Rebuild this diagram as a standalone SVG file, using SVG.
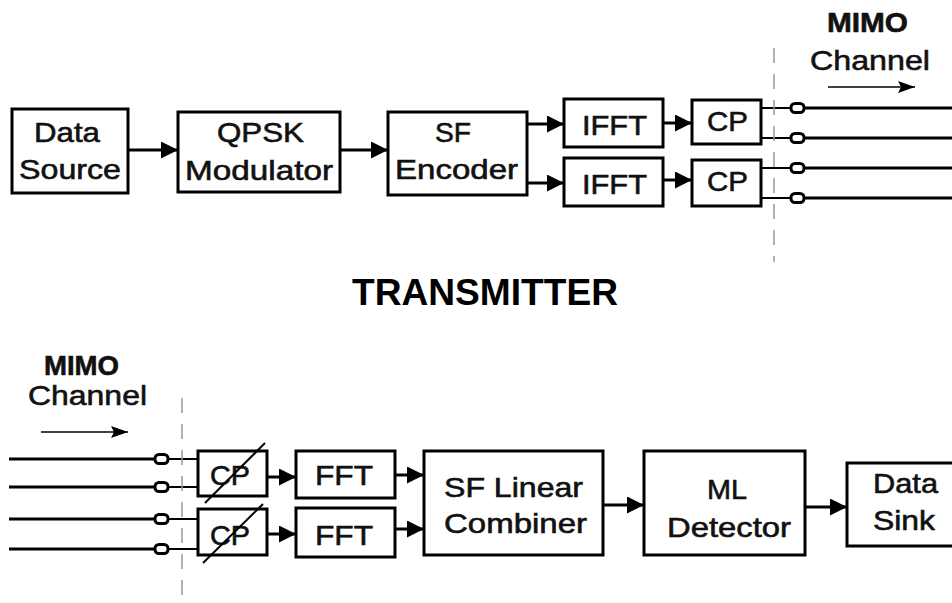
<svg xmlns="http://www.w3.org/2000/svg" width="952" height="603" viewBox="0 0 952 603">
<defs>
<style>
.box{fill:#fff;stroke:#000;stroke-width:3}
.t{font-family:"Liberation Sans",Arial,sans-serif;font-size:28px;fill:#111;stroke:#111;stroke-width:0.6}
.tb{font-family:"Liberation Sans",Arial,sans-serif;font-size:37px;font-weight:bold;fill:#000}
.ar{stroke:#000;stroke-width:3;fill:none;marker-end:url(#ah)}
.sm{stroke:#000;stroke-width:1.5;fill:none;marker-end:url(#ahs)}
.thick{stroke:#000;stroke-width:3;fill:none}
.thin{stroke:#000;stroke-width:2;fill:none}
.con{fill:#fff;stroke:#000;stroke-width:3}
.dash{stroke:#999;stroke-width:1.5;stroke-dasharray:15 11;fill:none}
.slash{stroke:#000;stroke-width:2;fill:none}
</style>
<marker id="ah" markerUnits="userSpaceOnUse" markerWidth="17" markerHeight="17" refX="17" refY="8.5" orient="auto" viewBox="0 0 17 17">
<path d="M0,0 L17,8.5 L0,17 z" fill="#000"/>
</marker>
<marker id="ahs" markerUnits="userSpaceOnUse" markerWidth="17" markerHeight="12" refX="17" refY="6" orient="auto" viewBox="0 0 17 12">
<path d="M0,0 L17,6 L0,12 L3,6 z" fill="#000"/>
</marker>
</defs>

<g id="connectors">
<line class="ar" x1="128" y1="150" x2="178" y2="150"/>
<line class="ar" x1="340" y1="150" x2="388" y2="150"/>
<line class="ar" x1="527" y1="124" x2="564" y2="124"/>
<line class="ar" x1="527" y1="183" x2="564" y2="183"/>
<line class="ar" x1="663" y1="123" x2="692" y2="123"/>
<line class="ar" x1="663" y1="180" x2="692" y2="180"/>
<line class="thin" x1="761" y1="108" x2="792" y2="108"/>
<line class="thin" x1="761" y1="138" x2="792" y2="138"/>
<line class="thin" x1="761" y1="168" x2="792" y2="168"/>
<line class="thin" x1="761" y1="198" x2="792" y2="198"/>
<line class="thick" x1="803" y1="108" x2="952" y2="108"/>
<line class="thick" x1="803" y1="138" x2="952" y2="138"/>
<line class="thick" x1="803" y1="168" x2="952" y2="168"/>
<line class="thick" x1="803" y1="198" x2="952" y2="198"/>
<rect class="con" x="791" y="103.5" width="13" height="9" rx="4"/>
<rect class="con" x="791" y="133.5" width="13" height="9" rx="4"/>
<rect class="con" x="791" y="163.5" width="13" height="9" rx="4"/>
<rect class="con" x="791" y="193.5" width="13" height="9" rx="4"/>
<line class="dash" x1="774" y1="48" x2="774" y2="262"/>
<line class="sm" x1="828" y1="87" x2="915" y2="87"/>

<line class="thick" x1="9" y1="459" x2="156" y2="459"/>
<line class="thick" x1="9" y1="487" x2="156" y2="487"/>
<line class="thick" x1="9" y1="519" x2="156" y2="519"/>
<line class="thick" x1="9" y1="549" x2="156" y2="549"/>
<line class="thin" x1="166" y1="459" x2="198" y2="459"/>
<line class="thin" x1="166" y1="487" x2="198" y2="487"/>
<line class="thin" x1="166" y1="519" x2="198" y2="519"/>
<line class="thin" x1="166" y1="549" x2="198" y2="549"/>
<rect class="con" x="155" y="454.5" width="13" height="9" rx="4"/>
<rect class="con" x="155" y="482.5" width="13" height="9" rx="4"/>
<rect class="con" x="155" y="514.5" width="13" height="9" rx="4"/>
<rect class="con" x="155" y="544.5" width="13" height="9" rx="4"/>
<line class="dash" x1="182" y1="398" x2="182" y2="603"/>
<line class="sm" x1="41" y1="432" x2="128" y2="432"/>
<line class="ar" x1="267" y1="477" x2="296" y2="477"/>
<line class="ar" x1="267" y1="534" x2="296" y2="534"/>
<line class="ar" x1="395" y1="475" x2="424" y2="475"/>
<line class="ar" x1="395" y1="529" x2="424" y2="529"/>
<line class="ar" x1="603" y1="505" x2="644" y2="505"/>
<line class="ar" x1="805" y1="507" x2="847" y2="507"/>
</g>

<g id="data-source">
<rect class="box" x="12" y="109" width="116" height="84"/>
<text class="t" x="34" y="142" textLength="66" lengthAdjust="spacingAndGlyphs">Data</text>
<text class="t" x="19" y="179" textLength="102" lengthAdjust="spacingAndGlyphs">Source</text>
</g>
<g id="qpsk">
<rect class="box" x="178" y="112" width="162" height="80"/>
<text class="t" x="217" y="142" textLength="87" lengthAdjust="spacingAndGlyphs">QPSK</text>
<text class="t" x="185" y="180" textLength="148" lengthAdjust="spacingAndGlyphs">Modulator</text>
</g>
<g id="sf-encoder">
<rect class="box" x="388" y="112" width="139" height="83"/>
<text class="t" x="435" y="142" textLength="36" lengthAdjust="spacingAndGlyphs">SF</text>
<text class="t" x="395" y="179" textLength="123" lengthAdjust="spacingAndGlyphs">Encoder</text>
</g>
<g id="ifft1">
<rect class="box" x="564" y="99" width="99" height="48"/>
<text class="t" x="582" y="135" textLength="65" lengthAdjust="spacingAndGlyphs">IFFT</text>
</g>
<g id="ifft2">
<rect class="box" x="564" y="158" width="99" height="48"/>
<text class="t" x="582" y="194" textLength="65" lengthAdjust="spacingAndGlyphs">IFFT</text>
</g>
<g id="cp-tx1">
<rect class="box" x="692" y="100" width="69" height="44"/>
<text class="t" x="707" y="131" textLength="41" lengthAdjust="spacingAndGlyphs">CP</text>
</g>
<g id="cp-tx2">
<rect class="box" x="692" y="160" width="69" height="46"/>
<text class="t" x="707" y="191" textLength="41" lengthAdjust="spacingAndGlyphs">CP</text>
</g>
<g id="mimo-tx">
<text class="t" x="827" y="32" textLength="81" lengthAdjust="spacingAndGlyphs" font-weight="bold" stroke-width="0">MIMO</text>
<text class="t" x="810" y="70" textLength="120" lengthAdjust="spacingAndGlyphs">Channel</text>
</g>
<g id="transmitter-label">
<text class="tb" x="352" y="305" textLength="266" lengthAdjust="spacingAndGlyphs">TRANSMITTER</text>
</g>

<g id="mimo-rx">
<text class="t" x="44" y="375" textLength="75" lengthAdjust="spacingAndGlyphs" font-weight="bold" stroke-width="0">MIMO</text>
<text class="t" x="28" y="405" textLength="119" lengthAdjust="spacingAndGlyphs">Channel</text>
</g>
<g id="cp-rx1">
<rect class="box" x="198" y="451" width="69" height="45"/>
<text class="t" x="210" y="485" textLength="40" lengthAdjust="spacingAndGlyphs">CP</text>
<line class="slash" x1="205" y1="503" x2="265" y2="443"/>
</g>
<g id="cp-rx2">
<rect class="box" x="198" y="509" width="69" height="46"/>
<text class="t" x="210" y="545" textLength="40" lengthAdjust="spacingAndGlyphs">CP</text>
<line class="slash" x1="203" y1="563" x2="263" y2="504"/>
</g>
<g id="fft1">
<rect class="box" x="296" y="451" width="99" height="47"/>
<text class="t" x="315" y="485" textLength="58" lengthAdjust="spacingAndGlyphs">FFT</text>
</g>
<g id="fft2">
<rect class="box" x="296" y="508" width="99" height="49"/>
<text class="t" x="315" y="545" textLength="58" lengthAdjust="spacingAndGlyphs">FFT</text>
</g>
<g id="combiner">
<rect class="box" x="424" y="451" width="179" height="104"/>
<text class="t" x="444" y="497" textLength="139" lengthAdjust="spacingAndGlyphs">SF Linear</text>
<text class="t" x="444" y="533" textLength="143" lengthAdjust="spacingAndGlyphs">Combiner</text>
</g>
<g id="ml-detector">
<rect class="box" x="644" y="451" width="161" height="104"/>
<text class="t" x="707" y="499" textLength="40" lengthAdjust="spacingAndGlyphs">ML</text>
<text class="t" x="667" y="537" textLength="124" lengthAdjust="spacingAndGlyphs">Detector</text>
</g>
<g id="data-sink">
<rect class="box" x="847" y="463" width="120" height="83"/>
<text class="t" x="873" y="493" textLength="65" lengthAdjust="spacingAndGlyphs">Data</text>
<text class="t" x="873" y="530" textLength="62" lengthAdjust="spacingAndGlyphs">Sink</text>
</g>
</svg>
